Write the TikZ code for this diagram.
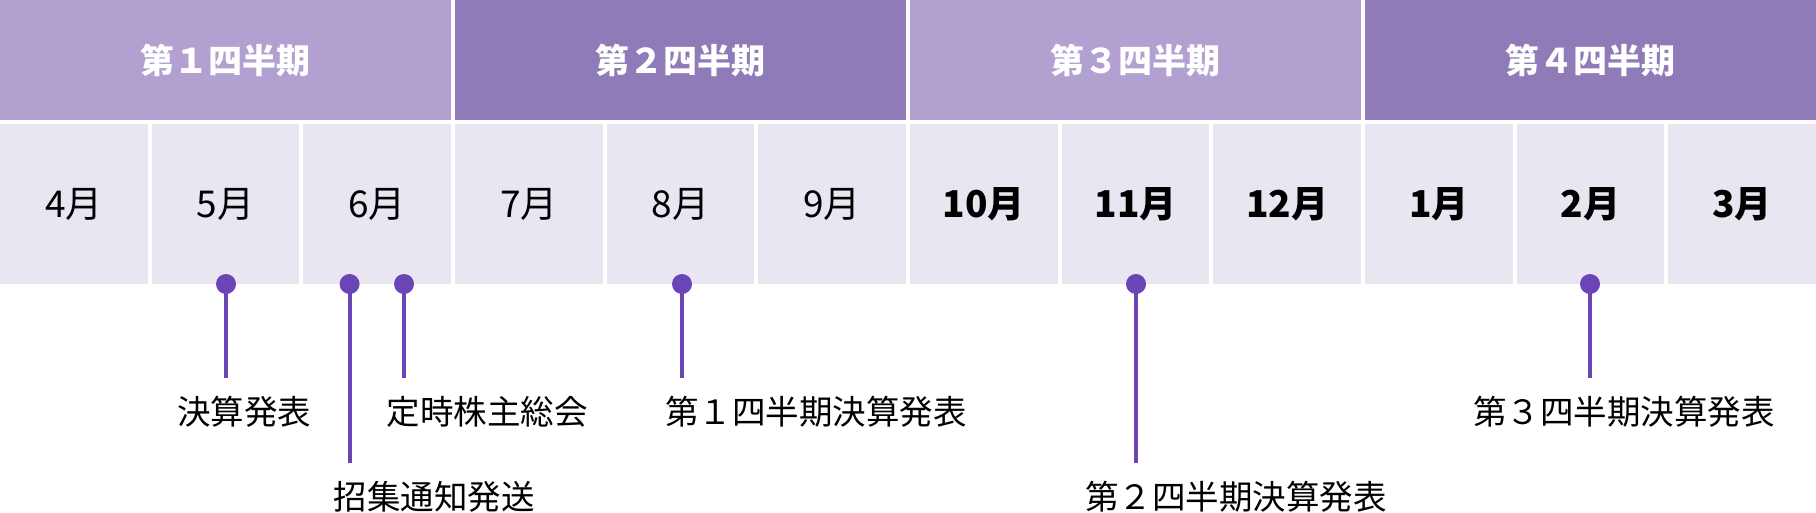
\documentclass[tikz,border=0pt]{standalone}
\usepackage{fontspec}
\setmainfont{Noto Sans CJK JP}
\usepackage{tikz}
\usetikzlibrary{positioning}
\definecolor{qlight}{HTML}{B2A0D0}
\definecolor{qdark}{HTML}{8E7BB7}
\definecolor{mbg}{HTML}{E9E6F2}
\definecolor{pin}{HTML}{6B45B5}

\begin{document}
\begin{tikzpicture}[x=1pt,y=-1pt,node distance=4pt,inner sep=0pt,outer sep=0pt]
    \tikzset{quarter/.style={rectangle,minimum width=451pt,minimum height=120pt,text=white,font=\fontsize{34}{40}\selectfont\bfseries}}
    \tikzset{month/.style={rectangle,fill=mbg,minimum width=147.67pt,minimum height=160pt,font=\fontsize{37}{44}\selectfont}}
    \tikzset{monthb/.style={month,font=\fontsize{37}{44}\selectfont\bfseries}}
    \tikzset{dot/.style={circle,fill=pin,minimum size=20pt}}
    \tikzset{pinline/.style={draw=pin,line width=4pt}}
    \tikzset{event/.style={font=\fontsize{33.5}{40}\selectfont}}
    \useasboundingbox (0,0) rectangle (1816,512);
    % quarters
    \node[quarter,fill=qlight,anchor=north west] (q1) at (0,0) {第１四半期};
    \node[quarter,fill=qdark] (q2) [right=of q1] {第２四半期};
    \node[quarter,fill=qlight] (q3) [right=of q2] {第３四半期};
    \node[quarter,fill=qdark] (q4) [right=of q3] {第４四半期};
    % months
    \node[month,anchor=north west] (m4) at (0,124) {4月};
    \node[month] (m5) [right=of m4] {5月};
    \node[month] (m6) [right=of m5] {6月};
    \node[month] (m7) [right=of m6] {7月};
    \node[month] (m8) [right=of m7] {8月};
    \node[month] (m9) [right=of m8] {9月};
    \node[monthb] (m10) [right=of m9] {10月};
    \node[monthb] (m11) [right=of m10] {11月};
    \node[monthb] (m12) [right=of m11] {12月};
    \node[monthb] (m1) [right=of m12] {1月};
    \node[monthb] (m2) [right=of m1] {2月};
    \node[monthb] (m3) [right=of m2] {3月};
    % events
    \coordinate (e1) at (226,378);
    \coordinate (e2) at (349.6,463);
    \coordinate (e3) at (404,378);
    \coordinate (e4) at (682,378);
    \coordinate (e5) at (1136,463);
    \coordinate (e6) at (1590,378);
    \node[dot] (d1) at (226,284) {};
    \node[dot] (d2) at (349.6,284) {};
    \node[dot] (d3) at (404,284) {};
    \node[dot] (d4) at (682,284) {};
    \node[dot] (d5) at (1136,284) {};
    \node[dot] (d6) at (1590,284) {};
    \path[pinline]
    (d1.center) -- (e1)
    (d2.center) -- (e2)
    (d3.center) -- (e3)
    (d4.center) -- (e4)
    (d5.center) -- (e5)
    (d6.center) -- (e6)
    ;
    \node[event] (l1) at (244,412) {決算発表};
    \node[event] (l2) at (434,497) {招集通知発送};
    \node[event] (l3) at (487,412) {定時株主総会};
    \node[event] (l4) at (816,412) {第１四半期決算発表};
    \node[event] (l5) at (1236,497) {第２四半期決算発表};
    \node[event] (l6) at (1624,412) {第３四半期決算発表};
  \end{tikzpicture}
\end{document}
